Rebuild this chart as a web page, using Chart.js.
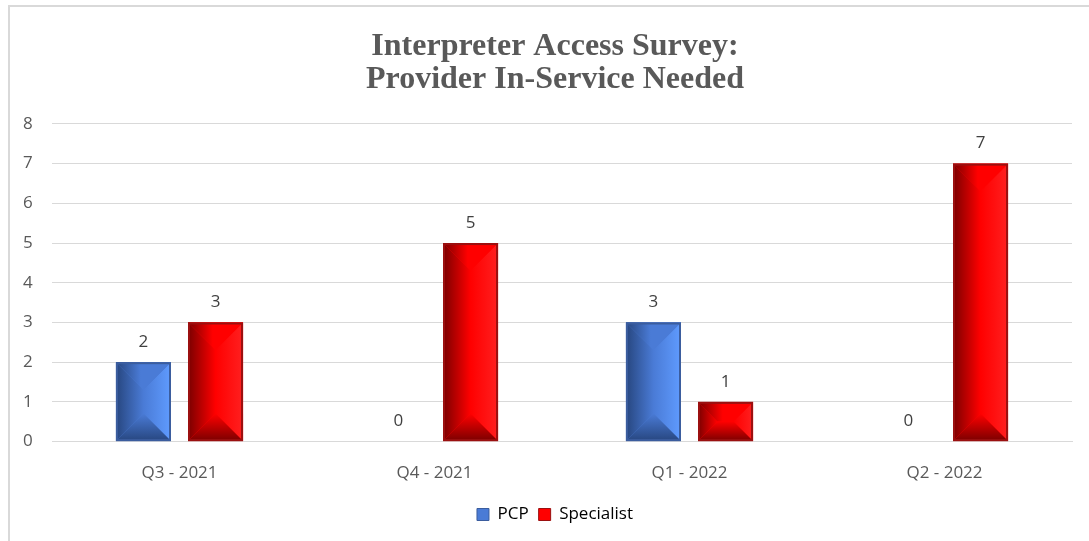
<!DOCTYPE html>
<html>
<head>
<meta charset="utf-8">
<script src="https://cdn.jsdelivr.net/npm/chart.js@4"></script>
<style>
  html, body { margin: 0; padding: 0; background: #fff; }
  #wrap { position: relative; width: 1089px; height: 541px; overflow: hidden; }
  #frame {
    position: absolute; left: 8px; top: 5px; width: 1100px; height: 560px;
    border-left: 2px solid #d9d9d9; border-top: 2px solid #d9d9d9;
  }
  canvas { position: absolute; left: 0; top: 0; }
</style>
</head>
<body>
<div id="wrap">
  <div id="frame"></div>
  <canvas id="surveyChart" width="1089" height="541"></canvas>
</div>
<script>
const quarters = ["Q3 - 2021", "Q4 - 2021", "Q1 - 2022", "Q2 - 2022"];
const pcpCounts = [2, 0, 3, 0];
const specialistCounts = [3, 5, 1, 7];
const yTicks = [0, 1, 2, 3, 4, 5, 6, 7, 8];

// shading for the bevelled bars: base, dark edge, light edge, outline
const shades = {
  PCP: { base: "#4a7bd6", dark: "#27467f", light: "#5f9bff", line: "#3b5d9e" },
  Specialist: { base: "#ff0000", dark: "#7a0000", light: "#ff2020", line: "#9b1010" },
};

const labelFont = "'Open Sans'";

function bevel(ctx, el, s) {
  const { x, y, base, width } = el.getProps(["x", "y", "base", "width"], true);
  const L = x - width / 2, R = x + width / 2, T = Math.min(y, base), B = Math.max(y, base);
  const h = B - T;
  if (h < 1) return;
  const d = Math.min(width / 2, h / 2);
  ctx.save();
  ctx.fillStyle = s.base;
  ctx.fillRect(L, T, width, h);

  const poly = (pts, fill) => {
    ctx.beginPath();
    ctx.moveTo(pts[0][0], pts[0][1]);
    for (let i = 1; i < pts.length; i++) ctx.lineTo(pts[i][0], pts[i][1]);
    ctx.closePath();
    ctx.fillStyle = fill;
    ctx.fill();
  };

  // left facet: dark to base
  let g = ctx.createLinearGradient(L, 0, L + d, 0);
  g.addColorStop(0, s.dark);
  g.addColorStop(1, s.base);
  poly([[L, T], [L + d, T + d], [L + d, B - d], [L, B]], g);

  // right facet: light
  g = ctx.createLinearGradient(R - d, 0, R, 0);
  g.addColorStop(0, s.base);
  g.addColorStop(1, s.light);
  poly([[R, T], [R - d, T + d], [R - d, B - d], [R, B]], g);

  // top facet
  g = ctx.createLinearGradient(L, 0, R, 0);
  g.addColorStop(0, s.dark);
  g.addColorStop(0.45, s.base);
  g.addColorStop(1, s.base);
  poly([[L, T], [R, T], [R - d, T + d], [L + d, T + d]], g);

  // bottom facet
  g = ctx.createLinearGradient(0, B - d, 0, B);
  g.addColorStop(0, s.base);
  g.addColorStop(1, s.dark);
  poly([[L, B], [R, B], [R - d, B - d], [L + d, B - d]], g);

  ctx.lineWidth = 2;
  ctx.strokeStyle = s.line;
  ctx.strokeRect(L + 1, T + 1, width - 2, h - 2);
  ctx.restore();
}

const barStyle = {
  id: "barStyle",
  afterDatasetsDraw(chart) {
    const ctx = chart.ctx;
    chart.data.datasets.forEach((ds, i) => {
      const meta = chart.getDatasetMeta(i);
      meta.data.forEach((el, j) => {
        bevel(ctx, el, shades[ds.label]);
        const { x, y } = el.getProps(["x", "y"], true);
        ctx.save();
        ctx.font = "17px " + labelFont;
        ctx.fillStyle = "#404040";
        ctx.textAlign = "center";
        ctx.textBaseline = "middle";
        ctx.fillText(String(ds.data[j]), x, y - 20);
        ctx.restore();
      });
    });
  },
};

new Chart(document.getElementById("surveyChart"), {
  type: "bar",
  data: {
    labels: quarters,
    datasets: [
      { label: "PCP", data: pcpCounts, backgroundColor: shades.PCP.base },
      { label: "Specialist", data: specialistCounts, backgroundColor: shades.Specialist.base },
    ],
  },
  options: {
    responsive: false,
    animation: false,
    events: [],
    layout: { padding: { left: 38, right: 17, top: 0, bottom: 8 } },
    datasets: { bar: { categoryPercentage: 0.565, barPercentage: 0.764 } },
    plugins: {
      title: {
        display: true,
        text: ["Interpreter Access Survey:", "Provider In-Service Needed"],
        font: { family: "'Liberation Serif'", size: 32, weight: "bold", lineHeight: 1.03 },
        color: "#595959",
        padding: { top: 30, bottom: 28 },
      },
      legend: {
        position: "bottom",
        labels: {
          boxWidth: 12,
          boxHeight: 12,
          font: { family: labelFont, size: 17 },
          color: "#595959",
          padding: 10,
          generateLabels(chart) {
            return chart.data.datasets.map((ds, i) => ({
              text: ds.label,
              fillStyle: shades[ds.label].base,
              strokeStyle: shades[ds.label].line,
              lineWidth: 1,
              datasetIndex: i,
            }));
          },
        },
      },
      tooltip: { enabled: false },
    },
    scales: {
      x: {
        grid: { display: false },
        border: { display: true, color: "#d9d9d9" },
        ticks: { font: { family: labelFont, size: 17 }, color: "#595959", padding: 13 },
      },
      y: {
        min: 0,
        max: 8,
        afterBuildTicks(scale) {
          scale.ticks = yTicks.map((v) => ({ value: v }));
        },
        afterFit(scale) {
          scale.width = 14;
        },
        grid: { color: "#d9d9d9", lineWidth: 1, drawTicks: false },
        border: { display: false },
        // mirrored so the labels sit left of the narrow axis box without clipping
        ticks: { font: { family: labelFont, size: 17 }, color: "#595959", mirror: true, padding: -29 },
      },
    },
  },
  plugins: [barStyle],
});
</script>
</body>
</html>
